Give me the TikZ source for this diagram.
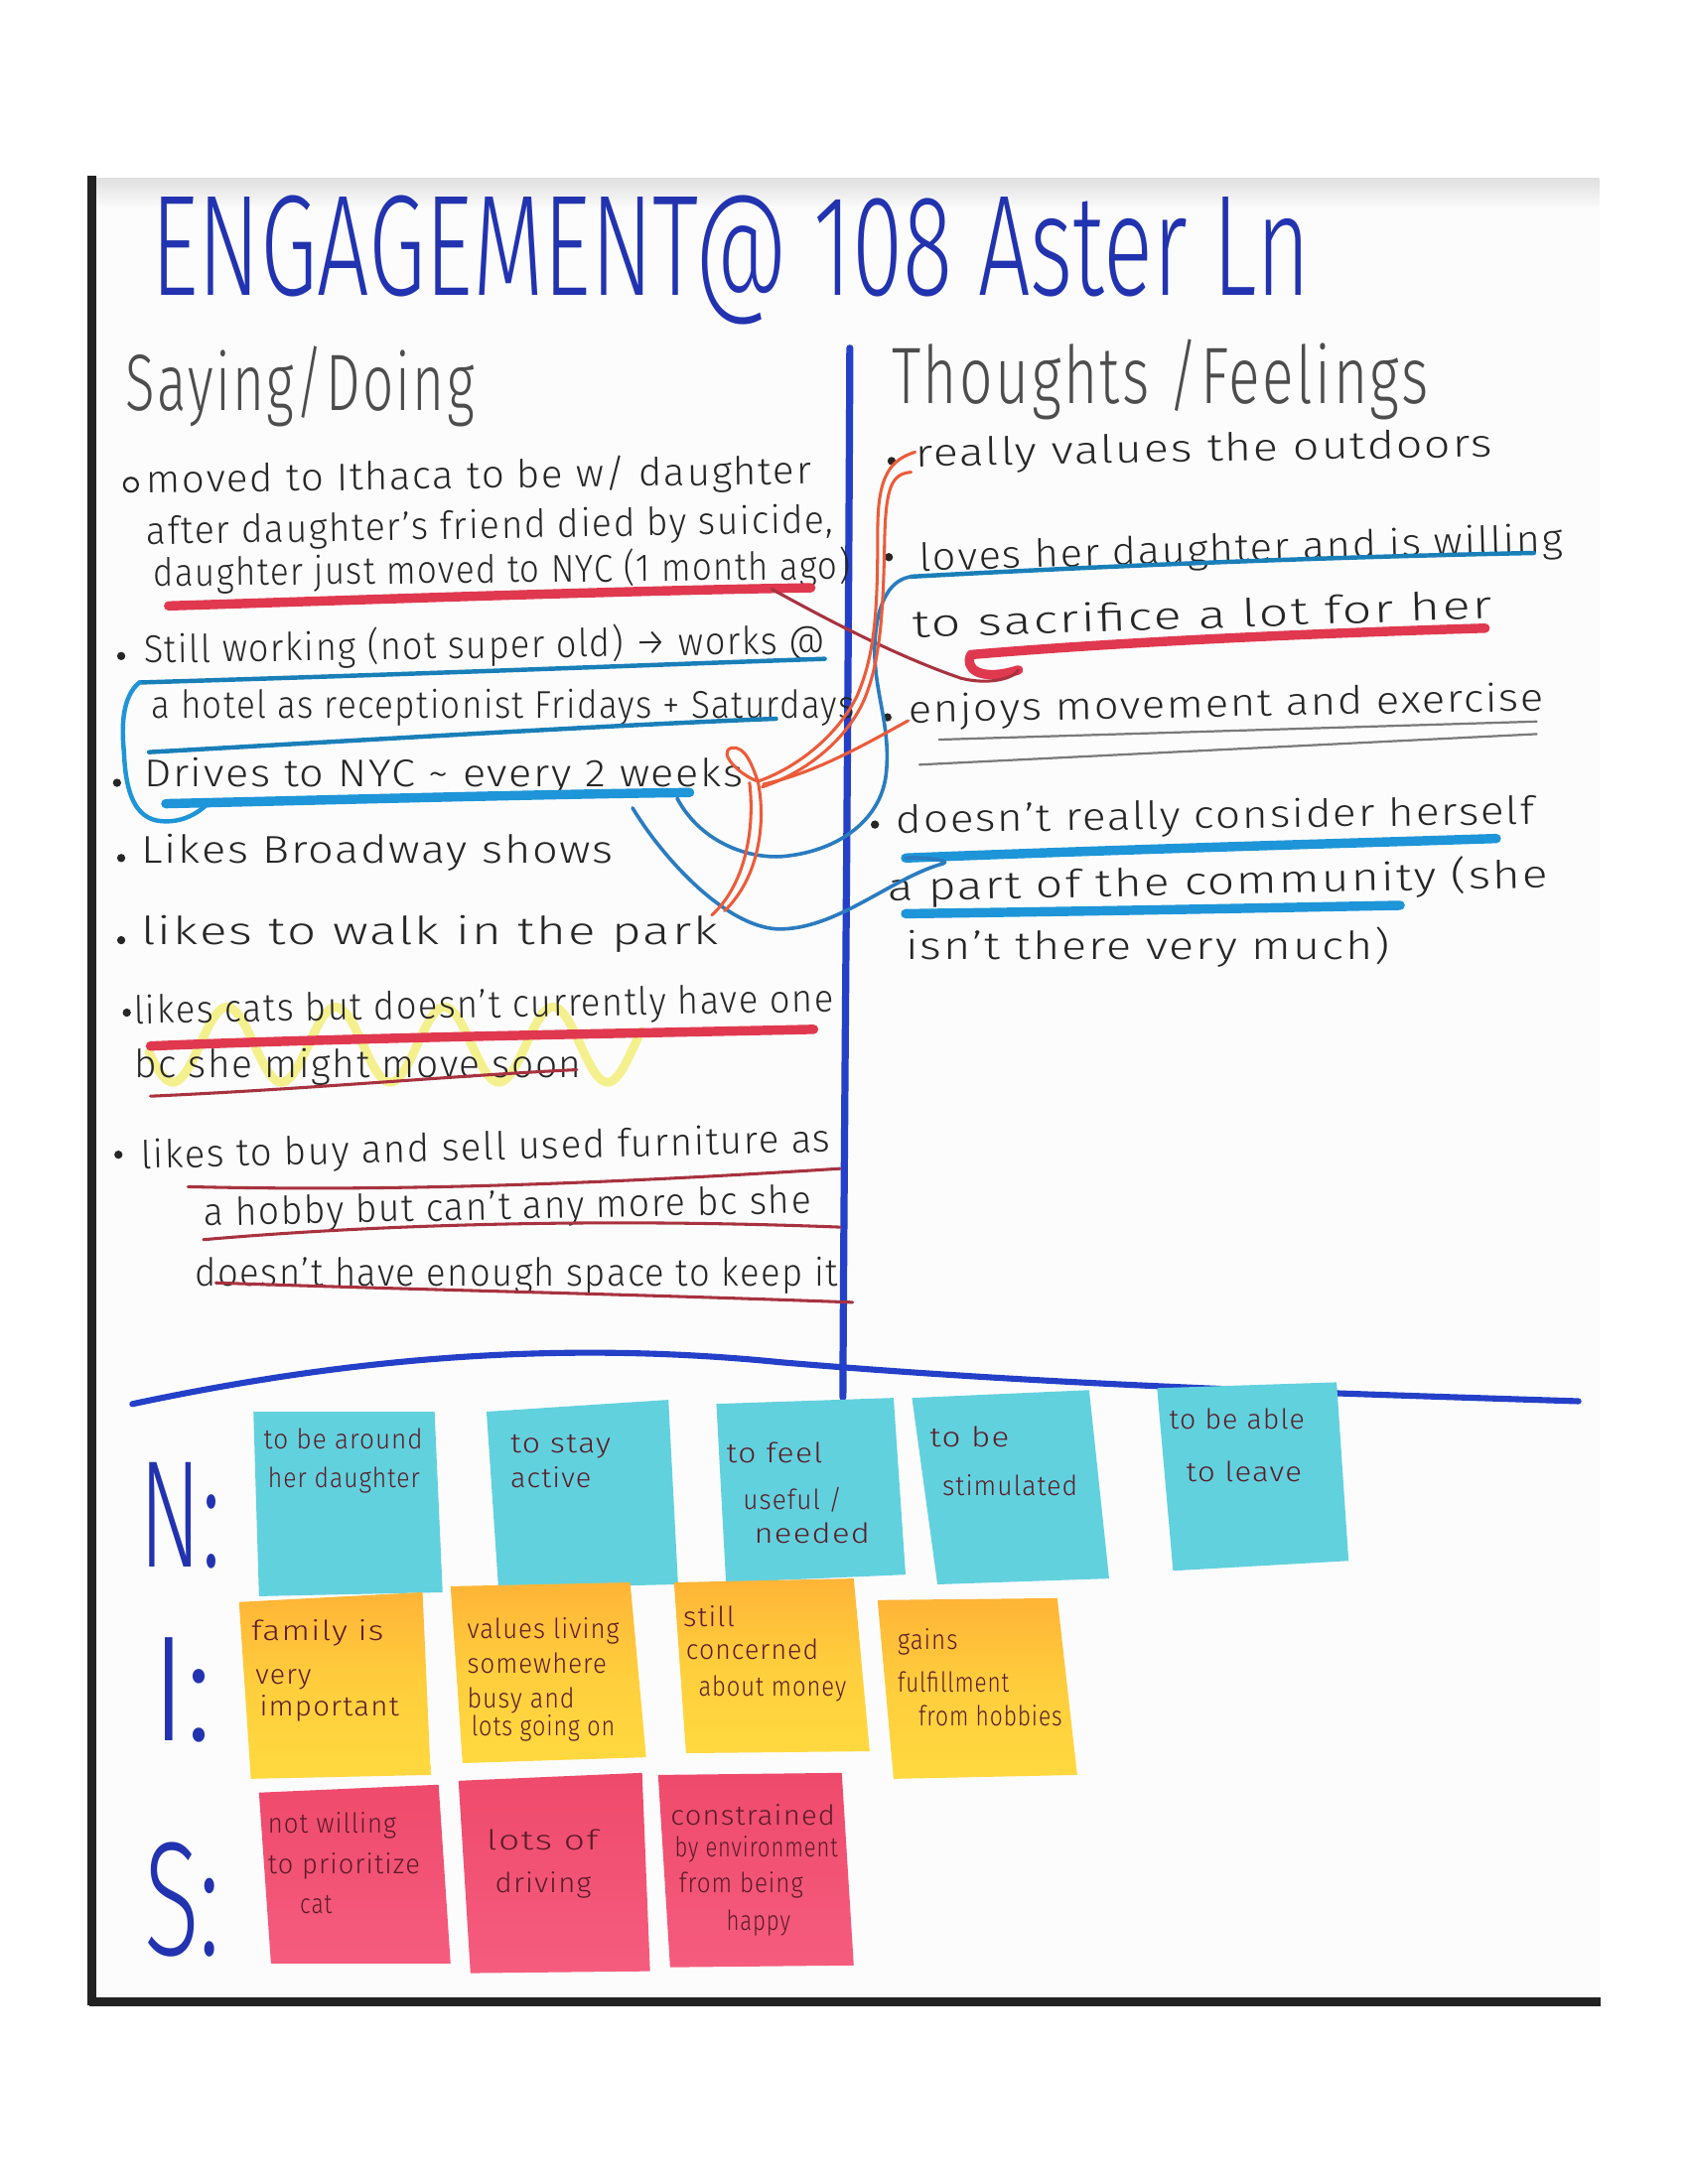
\documentclass[tikz,border=0pt]{standalone}
\usepackage{fontspec}
\IfFontExistsTF{Fira Sans Light}{%
  \setmainfont{Fira Sans Light}[LetterSpace=4]
  \newfontfamily\titlefamily{Fira Sans Light}%
}{%
  \setmainfont{Fira Sans}[LetterSpace=4]
  \newfontfamily\titlefamily{Fira Sans}%
}
\usepackage{graphicx}

% one drawing unit on the sheet
\newdimen\U \U=0.50495pt
% stretch a handwritten line to a given width (height kept)
\newcommand\hw[2]{\resizebox{#1\U}{\height}{#2}}
% stretch to a given width and height
\newcommand\hwh[3]{\resizebox{#1\U}{#2\U}{#3}}

\definecolor{ink}{HTML}{262626}
\definecolor{headink}{HTML}{4D4D4D}
\definecolor{titleblue}{HTML}{2233B0}
\definecolor{ruleblue}{HTML}{2440C8}
\definecolor{mkred}{HTML}{E0384F}
\definecolor{penred}{HTML}{A8323F}
\definecolor{mkorange}{HTML}{EC5B3A}
\definecolor{mkblue}{HTML}{1E95D8}
\definecolor{penblue}{HTML}{2A7CC0}
\definecolor{pengray}{HTML}{7A7A7A}
\definecolor{hlyellow}{HTML}{F3EE72}
\definecolor{notecyan}{HTML}{62D1DE}
\definecolor{noteyellow}{HTML}{FFD93F}
\definecolor{noteorange}{HTML}{FFB437}
\definecolor{notepink}{HTML}{F55C7E}
\definecolor{notepinktop}{HTML}{EF4A6C}
\definecolor{noteink}{HTML}{5A1C28}
\definecolor{paper}{HTML}{FCFCFC}
\definecolor{edge}{HTML}{222222}

\tikzset{
  txt/.style={anchor=base west, inner sep=0pt, text=ink, font=\fontsize{14}{16}\selectfont},
  head/.style={anchor=base west, inner sep=0pt, text=headink, font=\fontsize{29}{30}\selectfont},
  notetxt/.style={anchor=base west, inner sep=0pt, text=noteink, font=\fontsize{10}{12}\selectfont},
  rowlabel/.style={anchor=base west, inner sep=0pt, text=titleblue, font=\titlefamily\fontsize{30}{30}\selectfont},
  bigmark/.style={line width=3.4pt, line cap=round, line join=round},
  midmark/.style={line width=1.6pt, line cap=round, line join=round},
  pen/.style={line width=1.1pt, line cap=round, line join=round},
  dot/.style={circle, fill=ink, inner sep=0pt, minimum size=3pt},
  hl/.style={line width=3.2pt, hlyellow, opacity=0.8, line cap=round},
}

\begin{document}
\begin{tikzpicture}[x=0.50495pt, y=-0.50495pt]
\useasboundingbox (0,0) rectangle (1212,1568);
\fill[white] (0,0) rectangle (1212,1568);

% ---- poster sheet ----
\fill[paper] (65,128) rectangle (1148,1438);
\shade[top color=black!12, bottom color=paper] (65,128) rectangle (1148,150);
\draw[edge, line width=3.4pt] (66,126) -- (66,1440);
\draw[edge, line width=3.4pt] (64,1437) -- (1149,1437);

% ---- highlighter zigzag ----
\draw[hl] plot[smooth, domain=107:460, samples=120] (\x, {750-27*sin((\x-143.5)*4.615)});

% ---- title and column heads ----
\node[anchor=base west, inner sep=0pt, text=titleblue, font=\titlefamily\fontsize{52}{52}\selectfont]
  (title) at (108,212) {\hw{832}{ENGAGEMENT@ 108 Aster Ln}};
\node[head] (saydo) at (90,295) {\hw{250}{Saying/Doing}};
\node[head] (thinkfeel) at (640,290) {\hw{385}{Thoughts /Feelings}};

% ---- dividing lines ----
\draw[ruleblue, line width=2.6pt, line cap=round] (610,250) .. controls (609,500) and (606,800) .. (605,1003);
\draw[ruleblue, line width=2.2pt, line cap=round] (95,1008) .. controls (250,975) and (400,962) .. (560,978)
  .. controls (760,995) and (950,1000) .. (1133,1006);

% ---- saying / doing ----
\node[circle, draw=ink, line width=0.8pt, inner sep=0pt, minimum size=5pt] (b1) at (94,348) {};
\node[txt, rotate=0.8] (l1) at (105,354) {\hw{477}{moved to Ithaca to be w/ daughter}};
\node[txt, rotate=1] (l2) at (105,391) {\hw{493}{after daughter's friend died by suicide,}};
\node[txt, rotate=0.6] (l3) at (110,421) {\hw{500}{daughter just moved to NYC (1 month ago)}};
\node[dot] (b4) at (87,471) {};
\node[txt, rotate=0.8] (l4) at (103,476) {\hw{489}{Still working (not super old) → works @}};
\node[txt] (l5) at (108,516) {\hw{505}{a hotel as receptionist Fridays + Saturdays}};
\node[dot] (b6) at (84,562) {};
\node[txt] (l6) at (103,565) {\hw{430}{Drives to NYC \textasciitilde{} every 2 weeks}};
\node[dot] (b7) at (87,616) {};
\node[txt] (l7) at (101,620) {\hw{339}{Likes Broadway shows}};
\node[dot] (b8) at (87,675) {};
\node[txt] (l8) at (101,678) {\hw{414}{likes to walk in the park}};
\node[dot] (b9) at (91,727) {};
\node[txt, rotate=1] (l9) at (96,735) {\hw{502}{likes cats but doesn't currently have one}};
\node[txt] (l10) at (96,774) {\hw{321}{bc she might move soon}};
\node[dot] (b11) at (85,829) {};
\node[txt, rotate=1.4] (l11) at (101,839) {\hw{495}{likes to buy and sell used furniture as}};
\node[txt, rotate=1.2] (l12) at (146,880) {\hw{436}{a hobby but can't any more bc she}};
\node[txt] (l13) at (140,923) {\hw{461}{doesn't have enough space to keep it}};

% ---- thoughts / feelings ----
\node[dot] (r1b) at (640,331) {};
\node[txt, rotate=1] (r1) at (657,335) {\hw{414}{really values the outdoors}};
\node[dot] (r2b) at (638,400) {};
\node[txt, rotate=1.7] (r2) at (660,410) {\hw{462}{loves her daughter and is willing}};
\node[txt, rotate=1.9] (r3) at (655,458) {\hw{416}{to sacrifice a lot for her}};
\node[dot] (r4b) at (637,515) {};
\node[txt, rotate=1.1] (r4) at (652,519) {\hw{456}{enjoys movement and exercise}};
\node[dot] (r5b) at (628,592) {};
\node[txt, rotate=0.8] (r5) at (643,598) {\hw{458}{doesn't really consider herself}};
\node[txt, rotate=1.2] (r6) at (637,647) {\hw{474}{a part of the community (she}};
\node[txt] (r7) at (650,689) {\hw{347}{isn't there very much)}};

% ---- underline end points ----
\coordinate (u3a) at (121,435);  \coordinate (u3b) at (582,422);
\coordinate (u4a) at (100,490);  \coordinate (u4b) at (592,473);
\coordinate (u5a) at (107,540);  \coordinate (u5b) at (557,516);
\coordinate (u6a) at (151,575);  \coordinate (u6b) at (495,569);
\coordinate (u9a) at (108,751);  \coordinate (u9b) at (584,739);
\coordinate (ur2a) at (654,414); \coordinate (ur2b) at (1101,397);
\coordinate (ur3a) at (697,470); \coordinate (ur3b) at (1066,451);
\coordinate (ur3c) at (731,481);
\coordinate (ur5a) at (650,616); \coordinate (ur5b) at (1074,602);
\coordinate (ur6a) at (650,656); \coordinate (ur6b) at (1005,650);

% ---- underlines ----
\draw[bigmark, mkred] (u3a) .. controls (250,431) and (450,424) .. (u3b);
\draw[midmark, mkblue!85!black] (u4a) .. controls (300,484) and (450,478) .. (u4b);
\draw[midmark, mkblue!85!black] (u5a) .. controls (250,532) and (450,520) .. (u5b);
\draw[bigmark, mkblue] (119,577) .. controls (250,574) and (400,570) .. (u6b);
\draw[bigmark, mkred] (u9a) .. controls (250,745) and (450,742) .. (u9b);
\draw[pen, penred] (108,787) .. controls (220,782) and (330,772) .. (414,768);
\draw[pen, penred] (135,852) .. controls (260,855) and (400,852) .. (603,839);
\draw[pen, penred] (146,890) .. controls (260,880) and (420,874) .. (603,881);
\draw[pen, penred] (155,921) .. controls (300,926) and (450,929) .. (612,935);

\draw[midmark, mkblue!85!black] (ur2a) .. controls (800,406) and (950,400) .. (ur2b);
\draw[bigmark, mkred] (ur3b) .. controls (900,456) and (780,463) .. (ur3a)
  .. controls (692,479) and (702,490) .. (ur3c);
\draw[pen, pengray, line width=0.8pt] (674,531) -- (1103,518);
\draw[pen, pengray, line width=0.8pt] (660,549) -- (1103,527);
\draw[bigmark, mkblue] (ur5a) .. controls (800,610) and (950,606) .. (ur5b);
\draw[bigmark, mkblue] (ur6a) .. controls (800,654) and (900,652) .. (ur6b);

% ---- bracket round work and driving ----
\draw[midmark, mkblue] (u4a) .. controls (88,500) and (87,520) .. (89,540)
  .. controls (90,565) and (95,585) .. (112,589) .. controls (128,592) and (142,585) .. (u6a);

% ---- links between the columns ----
\coordinate (park) at (520,654);
\coordinate (park2) at (511,657);
\coordinate (knot) at (544,561);
\coordinate (drv) at (486,573);
\coordinate (drv2) at (454,580);

% daughter moved -> sacrifice
\draw[pen, penred] (u3b) ++(-28,1) .. controls (585,440) and (640,470) .. (690,487)
  .. controls (710,492) and (728,487) .. (ur3c);
% driving -> loves her daughter
\draw[midmark, penblue, line width=1.3pt] (drv) .. controls (500,600) and (530,616) .. (560,615)
  .. controls (600,612) and (632,590) .. (636,556) .. controls (640,520) and (626,495) .. (628,460)
  .. controls (630,430) and (640,416) .. (ur2a);
% driving -> part of the community
\draw[midmark, penblue, line width=1.3pt] (drv2) .. controls (475,615) and (520,665) .. (558,667)
  .. controls (600,668) and (640,630) .. (677,620) .. controls (683,618) and (665,615) .. (ur5a);
% outdoors / exercise -> walk in the park
\draw[pen, mkorange] (r1.west) ++(0,-3) .. controls (640,330) and (630,340) .. (630,380)
  .. controls (630,440) and (628,470) .. (615,500) .. controls (600,530) and (570,552) .. (knot);
\draw[pen, mkorange] (654,339) .. controls (640,340) and (636,350) .. (635,385)
  .. controls (634,440) and (632,475) .. (620,503) .. controls (606,534) and (575,556) .. (547,565);
\draw[pen, mkorange] (knot) .. controls (530,556) and (515,540) .. (525,537)
  .. controls (535,535) and (540,550) .. (knot);
\draw[pen, mkorange] (r4.west) ++(0,6) .. controls (620,535) and (585,555) .. (548,563);
\draw[pen, mkorange] (knot) .. controls (550,590) and (545,630) .. (park);
\draw[pen, mkorange] (538,562) .. controls (542,595) and (535,635) .. (park2);

% ---- row labels ----
\node[rowlabel] (labN) at (100,1125) {\hwh{58}{75}{N:}};
\node[rowlabel] (labI) at (108,1250) {\hwh{44}{74}{I:}};
\node[rowlabel] (labS) at (103,1404) {\hwh{55}{81}{S:}};

% ---- needs ----
\fill[notecyan] (181.9,1013.5) -- (311.9,1013.5) -- (317.7,1143.2) -- (185.9,1146) -- cycle;
\fill[notecyan] (349.2,1013.5) -- (479.8,1005) -- (486.7,1137.5) -- (357.8,1140.4) -- cycle;
\fill[notecyan] (514.2,1007.9) -- (641.4,1003.6) -- (650,1130.5) -- (521.1,1136.1) -- cycle;
\fill[notecyan] (654.6,1003.6) -- (781.8,998) -- (796.1,1133.3) -- (672.9,1137.5) -- cycle;
\fill[notecyan] (830.5,996.6) -- (959.4,992.4) -- (968,1120.6) -- (842,1127.7) -- cycle;
\node[notetxt] (n1a) at (189,1040) {\hw{114}{to be around}};
\node[notetxt] (n1b) at (192,1068) {\hw{109}{her daughter}};
\node[notetxt] (n2a) at (366,1043) {\hw{72}{to stay}};
\node[notetxt] (n2b) at (366,1068) {\hw{58}{active}};
\node[notetxt] (n3a) at (521,1050) {\hw{69}{to feel}};
\node[notetxt] (n3b) at (533,1084) {\hw{71}{useful /}};
\node[notetxt] (n3c) at (541,1108) {\hw{83}{needed}};
\node[notetxt] (n4a) at (667,1039) {\hw{57}{to be}};
\node[notetxt] (n4b) at (676,1074) {\hw{97}{stimulated}};
\node[notetxt] (n5a) at (839,1026) {\hw{97}{to be able}};
\node[notetxt] (n5b) at (851,1064) {\hw{83}{to leave}};

% ---- insights ----
\shade[top color=noteorange, bottom color=noteyellow, middle color=noteyellow!70!noteorange]
  (171.6,1150.2) -- (303.3,1143.2) -- (309.1,1274.3) -- (180.1,1277.1) -- cycle;
\shade[top color=noteorange, bottom color=noteyellow, middle color=noteyellow!70!noteorange]
  (323.4,1138.9) -- (452.3,1136.1) -- (463.8,1261.6) -- (332,1265.8) -- cycle;
\shade[top color=noteorange, bottom color=noteyellow, middle color=noteyellow!70!noteorange]
  (483.8,1136.1) -- (612.8,1133.3) -- (624.2,1257.3) -- (492.4,1258.7) -- cycle;
\shade[top color=noteorange, bottom color=noteyellow, middle color=noteyellow!70!noteorange]
  (629.9,1148.8) -- (758.9,1147.4) -- (773.2,1274.3) -- (641.4,1277.1) -- cycle;
\node[notetxt] (i1a) at (180,1178) {\hw{95}{family is}};
\node[notetxt] (i1b) at (183,1209) {\hw{40}{very}};
\node[notetxt] (i1c) at (186,1232) {\hw{100}{important}};
\node[notetxt] (i2a) at (335,1176) {\hw{109}{values living}};
\node[notetxt] (i2b) at (335,1201) {\hw{100}{somewhere}};
\node[notetxt] (i2c) at (335,1226) {\hw{77}{busy and}};
\node[notetxt] (i2d) at (338,1246) {\hw{103}{lots going on}};
\node[notetxt] (i3a) at (490,1168) {\hw{37}{still}};
\node[notetxt] (i3b) at (492,1191) {\hw{95}{concerned}};
\node[notetxt] (i3c) at (501,1218) {\hw{106}{about money}};
\node[notetxt] (i4a) at (644,1184) {\hw{43}{gains}};
\node[notetxt] (i4b) at (644,1215) {\hw{80}{fulfillment}};
\node[notetxt] (i4c) at (659,1239) {\hw{103}{from hobbies}};

% ---- struggles ----
\shade[top color=notepinktop, bottom color=notepink]
  (185.9,1287) -- (314.8,1281.3) -- (323.4,1409.6) -- (194.5,1409.6) -- cycle;
\shade[top color=notepinktop, bottom color=notepink]
  (329.1,1278.5) -- (460.9,1272.8) -- (466.6,1415.2) -- (337.7,1416.6) -- cycle;
\shade[top color=notepinktop, bottom color=notepink]
  (472.4,1274.3) -- (604.2,1272.8) -- (612.8,1411) -- (481,1412.4) -- cycle;
\node[notetxt] (s1a) at (192,1316) {\hw{92}{not willing}};
\node[notetxt] (s1b) at (192,1345) {\hw{109}{to prioritize}};
\node[notetxt] (s1c) at (215,1374) {\hw{23}{cat}};
\node[notetxt] (s2a) at (349,1328) {\hw{80}{lots of}};
\node[notetxt] (s2b) at (355,1359) {\hw{69}{driving}};
\node[notetxt] (s3a) at (481,1310) {\hw{118}{constrained}};
\node[notetxt] (s3b) at (484,1333) {\hw{117}{by environment}};
\node[notetxt] (s3c) at (487,1359) {\hw{89}{from being}};
\node[notetxt] (s3d) at (521,1386) {\hw{46}{happy}};
\end{tikzpicture}
\end{document}
